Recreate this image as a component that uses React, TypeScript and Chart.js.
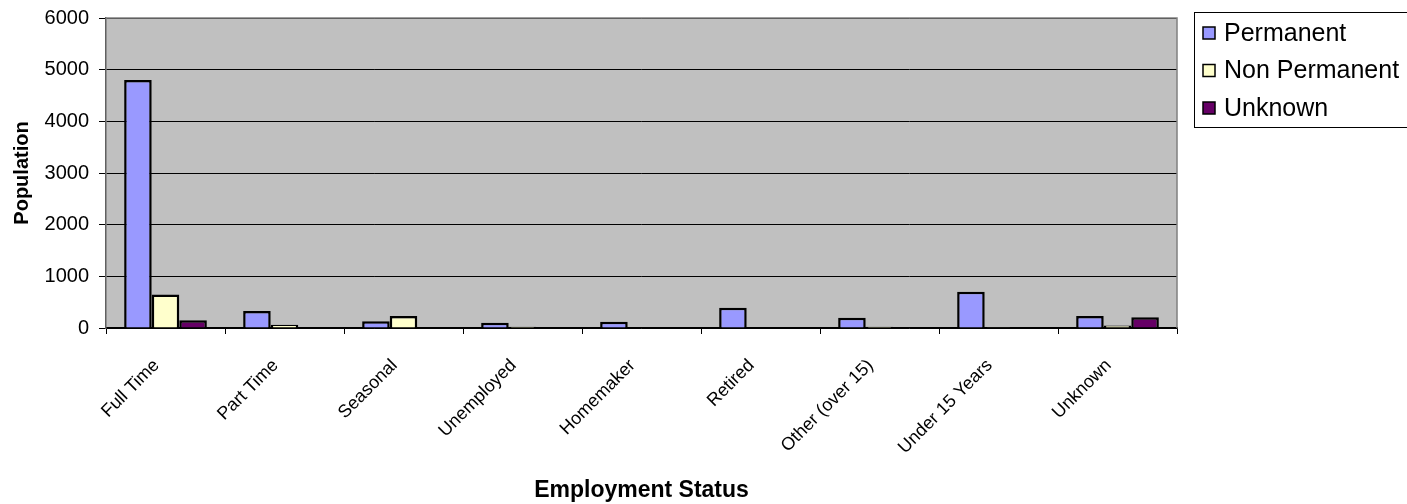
import React, { useEffect, useRef } from "react";
import { Chart, registerables } from "chart.js";

Chart.register(...registerables);

const categories = ["Full Time", "Part Time", "Seasonal", "Unemployed", "Homemaker", "Retired", "Other (over 15)", "Under 15 Years", "Unknown"];
const permanent = [4800, 330, 130, 100, 120, 390, 200, 700, 230];
const nonPermanent = [650, 65, 230, 25, 0, 0, 25, 15, 50];
const unknown = [150, 0, 0, 0, 0, 0, 0, 0, 210];
const seriesNames = ["Permanent", "Non Permanent", "Unknown"];
const seriesColors = ["#9999ff", "#ffffcc", "#660066"];
const yTicks = [0, 1000, 2000, 3000, 4000, 5000, 6000];

const FONT = "'Liberation Sans', Arial, sans-serif";

const bgPlugin = {
  id: "bgPlugin",
  beforeDraw(chart: any) {
    const { ctx, chartArea: a } = chart;
    ctx.save();
    ctx.fillStyle = "#c0c0c0";
    ctx.fillRect(a.left, a.top, a.right - a.left, a.bottom - a.top);
    ctx.restore();
  },
  afterDatasetsDraw(chart: any) {
    const { ctx, chartArea: a } = chart;
    ctx.save();
    ctx.strokeStyle = "#808080";
    ctx.lineWidth = 1.5;
    ctx.beginPath();
    ctx.moveTo(a.left, a.top);
    ctx.lineTo(a.right, a.top);
    ctx.lineTo(a.right, a.bottom);
    ctx.stroke();
    ctx.restore();
  },
};

const legendPlugin = {
  id: "boxLegend",
  afterDraw(chart: any) {
    const { ctx } = chart;
    const x = 1194.5, y = 12.5, w = 240, h = 115;
    ctx.save();
    ctx.fillStyle = "#ffffff";
    ctx.fillRect(x, y, w, h);
    ctx.strokeStyle = "#000000";
    ctx.lineWidth = 1;
    ctx.strokeRect(x, y, w, h);
    ctx.font = `25px ${FONT}`;
    ctx.textBaseline = "middle";
    chart.data.datasets.forEach((ds: any, i: number) => {
      const cy = 33 + i * 37.5;
      ctx.fillStyle = ds.backgroundColor;
      ctx.fillRect(1203, cy - 6, 12, 12);
      ctx.strokeStyle = "#000";
      ctx.lineWidth = 1.5;
      ctx.strokeRect(1203, cy - 6, 12, 12);
      ctx.fillStyle = "#000";
      ctx.fillText(ds.label, 1224, cy + 1);
    });
    ctx.restore();
  },
};

export default function App() {
  const ref = useRef<HTMLCanvasElement>(null);
  useEffect(() => {
    const data = [permanent, nonPermanent, unknown];
    const chart = new Chart(ref.current!, {
      type: "bar",
      data: {
        labels: categories,
        datasets: seriesNames.map((n, i) => ({
          label: n,
          data: data[i],
          backgroundColor: seriesColors[i],
          borderColor: "#000000",
          borderWidth: 2.5,
          borderSkipped: "bottom",
          categoryPercentage: 0.695,
          barPercentage: 1.0,
        })),
      },
      options: {
        animation: false,
        responsive: false,
        maintainAspectRatio: false,
        layout: { padding: { top: 18, right: 230, left: 0, bottom: 0 } },
        plugins: { legend: { display: false }, tooltip: { enabled: false } },
        scales: {
          x: {
            offset: true,
            grid: { display: true, drawOnChartArea: false, drawTicks: true, tickLength: 6, color: "#000", offset: true },
            border: { color: "#000", width: 1.5 },
            ticks: { color: "#000", font: { family: FONT, size: 18 }, maxRotation: 45, minRotation: 45, autoSkip: false, padding: 21, labelOffset: -9 },
            title: { display: true, text: "Employment Status", color: "#000", font: { family: FONT, size: 23, weight: "bold" }, padding: { top: 0, bottom: 0 } },
            afterFit(scale: any) { scale.height = 176; scale.paddingLeft = 0; scale.paddingRight = 0; },
          },
          y: {
            min: 0,
            max: 6000,
            afterBuildTicks(scale: any) { scale.ticks = yTicks.map((v) => ({ value: v })); },
            grid: { color: "#000", lineWidth: 1, drawTicks: true, tickLength: 7 },
            border: { color: "#606060", width: 1.5 },
            ticks: { color: "#000", font: { family: FONT, size: 20 }, padding: 10, callback: (v: any) => String(v) },
            title: { display: true, text: "Population", color: "#000", font: { family: FONT, size: 20, weight: "bold" }, padding: { top: 10, bottom: 0 } },
            afterFit(scale: any) { scale.width = 106; scale.paddingTop = 0; scale.paddingBottom = 0; },
          },
        },
      },
      plugins: [bgPlugin, legendPlugin],
    });
    return () => chart.destroy();
  }, []);
  return (
    <div style={{ position: "fixed", left: 0, top: 0, width: 1407, height: 504, background: "#fff" }}>
      <canvas ref={ref} width={1407} height={504} style={{ width: 1407, height: 504 }} />
    </div>
  );
}
